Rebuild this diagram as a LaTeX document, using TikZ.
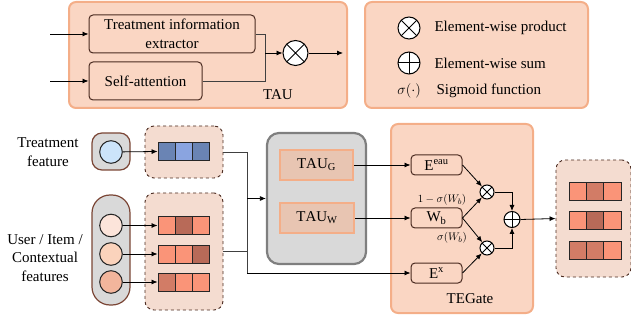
\documentclass[tikz,border=0pt]{standalone}
\usepackage{fontspec}
\setmainfont{Liberation Serif}
\usetikzlibrary{arrows.meta,positioning}

\definecolor{panel}{HTML}{FAD6C3}
\definecolor{panelline}{HTML}{F4AE88}
\definecolor{dashfill}{HTML}{F4DCD0}
\definecolor{boxline}{HTML}{4A2A20}
\definecolor{pillline}{HTML}{7B4636}
\definecolor{graybox}{HTML}{D9D9D9}
\definecolor{grayline}{HTML}{7F7F7F}
\definecolor{taufill}{HTML}{E8C5B2}
\definecolor{salmon}{HTML}{FA9478}
\definecolor{rust}{HTML}{B86A58}
\definecolor{clay}{HTML}{D27C66}
\definecolor{blueA}{HTML}{6A84B4}
\definecolor{blueB}{HTML}{8AA4E0}
\definecolor{featblue}{HTML}{CCE4FA}
\definecolor{featA}{HTML}{FCE4DA}
\definecolor{featB}{HTML}{FBD3BC}
\definecolor{featC}{HTML}{F2B59C}

\tikzset{
  panelbox/.style={draw=panelline, line width=2pt, fill=panel, rounded corners=7pt},
  unitbox/.style={draw=boxline, line width=1pt, fill=panel, rounded corners=4pt, align=center},
  embbox/.style={draw=boxline, dashed, line width=0.9pt, fill=dashfill, rounded corners=9pt},
  pill/.style={draw=pillline, line width=1.2pt, fill=graybox},
  cell/.style={draw=black!85, line width=1pt, minimum width=17.3pt, minimum height=18pt, inner sep=0pt},
  feat/.style={circle, draw=black!85, line width=1pt, minimum size=22.6pt, inner sep=0pt},
  opx/.style={circle, draw=black, line width=1pt, fill=white, inner sep=0pt,
    path picture={\draw[line width=1pt] (path picture bounding box.north west) -- (path picture bounding box.south east)
      (path picture bounding box.north east) -- (path picture bounding box.south west);}},
  opplus/.style={circle, draw=black, line width=1pt, fill=white, inner sep=0pt,
    path picture={\draw[line width=1pt] (path picture bounding box.north) -- (path picture bounding box.south)
      (path picture bounding box.west) -- (path picture bounding box.east);}},
  arr/.style={-{Latex[length=6pt,width=5pt]}, line width=0.8pt},
  wire/.style={line width=0.8pt, draw=black!75},
  small/.style={font=\fontsize{11}{13}\selectfont}
}

\begin{document}
\begin{tikzpicture}[x=1pt, y=-1pt, font=\fontsize{15}{18.5}\selectfont]
  \useasboundingbox (0,0) rectangle (631,320);

  % TAU panel
  \node[panelbox, minimum width=278pt, minimum height=106pt] (tau) at (208,55) {};
  \node[unitbox, minimum width=166pt, minimum height=38pt] (extract) at (172,34) {Treatment information\\extractor};
  \node[unitbox, minimum width=113pt, minimum height=38pt] (selfatt) at (145.5,81) {Self-attention};
  \node[opx, minimum size=25pt] (mul) at (295.5,53) {};
  \node (taulbl) at (278,95) {TAU};
  \coordinate (in1) at (50,34);
  \coordinate (in2) at (50,81);
  \coordinate (join) at (265,53);
  \coordinate (out) at (343,53);
  \draw[arr] (in1) -- (extract.west);
  \draw[arr] (in2) -- (selfatt.west);
  \draw[wire] (extract.east) -| (join);
  \draw[wire] (selfatt.east) -| (join);
  \draw[arr] (join) -- (mul.west);
  \draw[arr] (mul.east) -- (out);

  % Legend
  \node[panelbox, minimum width=223pt, minimum height=106pt] (legend) at (476.5,55) {};
  \node[opx, minimum size=22pt] (lmul) at (409,28) {};
  \node[opplus, minimum size=22pt] (ladd) at (409,63) {};
  \node (lsig) at (409,91) {$\sigma(\cdot)$};
  \node[anchor=west] (tmul) at (431,28) {Element-wise product};
  \node[anchor=west] (tadd) at (431,63) {Element-wise sum};
  \node[anchor=west] (tsig) at (433,91) {Sigmoid function};

  % Treatment feature
  \node[align=center] (tfeat) at (48,152) {Treatment\\feature};
  \node[pill, rounded corners=10pt, minimum width=38pt, minimum height=37pt] (tpill) at (111,151.5) {};
  \node[feat, fill=featblue] (tcirc) at (111,152) {};
  \node[embbox, minimum width=78pt, minimum height=52pt] (temb) at (184,152) {};
  \foreach \c [count=\i] in {blueA,blueB,blueA}
    \node[cell, fill=\c] (t\i) at ({166.7+17.3*(\i-1)},151.5) {};
  \draw[arr] (tcirc) -- (t1.west);

  % User / Item / Contextual features
  \node[align=center] (ufeat) at (45,258) {User / Item /\\Contextual\\features};
  \node[pill, rounded corners=18pt, minimum width=38pt, minimum height=110pt] (upill) at (111,250) {};
  \node[embbox, minimum width=78pt, minimum height=117pt] (uemb) at (184,251.5) {};
  \foreach \r/\y/\f/\ca/\cb/\cc in {1/225.5/featA/salmon/rust/salmon,
                                   2/254/featB/salmon/salmon/rust,
                                   3/282/featC/clay/salmon/salmon} {
    \node[feat, fill=\f] (c\r) at (111,\y) {};
    \foreach \c [count=\i] in {\ca,\cb,\cc}
      \node[cell, fill=\c] (u\r\i) at ({166.7+17.3*(\i-1)},\y) {};
    \draw[arr] (c\r) -- (u\r1.west);
  }

  % TAU blocks
  \node[draw=grayline, line width=2.2pt, fill=graybox, rounded corners=12pt,
        minimum width=99pt, minimum height=131pt] (gbox) at (316.5,198.5) {};
  \node[draw=panelline, line width=2pt, fill=taufill, minimum width=73pt, minimum height=30pt] (tauG) at (316.5,165) {$\mathrm{TAU}_{\mathrm{G}}$};
  \node[draw=panelline, line width=2pt, fill=taufill, minimum width=74pt, minimum height=30pt] (tauW) at (317,218) {$\mathrm{TAU}_{\mathrm{W}}$};

  % TEGate
  \node[panelbox, minimum width=142pt, minimum height=189pt] (tegate) at (462,218.5) {};
  \node (teglbl) at (470,299) {TEGate};
  \node[unitbox, minimum width=51pt, minimum height=20pt, inner sep=0pt] (eeau) at (436.5,165) {$\mathrm{E}^{\mathrm{eau}}$};
  \node[unitbox, minimum width=51pt, minimum height=20pt, inner sep=0pt] (wb) at (436.5,218) {$\mathrm{W}_{\mathrm{b}}$};
  \node[unitbox, minimum width=51pt, minimum height=20pt, inner sep=0pt] (ex) at (436.5,273) {$\mathrm{E}^{\mathrm{x}}$};
  \node[opx, minimum size=14pt] (mul1) at (487,192) {};
  \node[opx, minimum size=14pt] (mul2) at (487,248) {};
  \node[opplus, minimum size=16pt] (add) at (512,219.5) {};
  \node[small] (g1) at (442,200) {$1-\sigma(W_b)$};
  \node[small] (g2) at (452,238) {$\sigma(W_b)$};

  % Output embedding
  \node[embbox, minimum width=75pt, minimum height=117pt] (oemb) at (593.5,218.5) {};
  \foreach \r/\y/\ca/\cb/\cc in {1/192/salmon/clay/salmon,
                                 2/220.5/salmon/rust/salmon,
                                 3/250.5/clay/clay/salmon}
    \foreach \c [count=\i] in {\ca,\cb,\cc}
      \node[cell, fill=\c] (o\r\i) at ({578.5+17*(\i-1)},\y) {};

  % Connections
  \coordinate (bot) at (247,273);
  \coordinate (mid) at (247,198.5);
  \draw[wire] (temb.east) -| (bot);
  \draw[wire] (uemb.east) -- (uemb.east -| bot);
  \draw[arr] (bot) -- (ex.west);
  \draw[arr] (mid) -- (gbox.west);
  \draw[arr] (tauG.east) -- (eeau.west);
  \draw[arr] (tauW.east) -- (wb.west);
  \draw[arr] (eeau.east) -- (mul1);
  \draw[arr] (wb.east) -- (mul1);
  \draw[arr] (wb.east) -- (mul2);
  \draw[arr] (ex.east) -- (mul2);
  \draw[arr] (mul1.east) -| (add.north);
  \draw[arr] (mul2.east) -| (add.south);
  \draw[arr] (add.east) -- (oemb.west);
\end{tikzpicture}
\end{document}
